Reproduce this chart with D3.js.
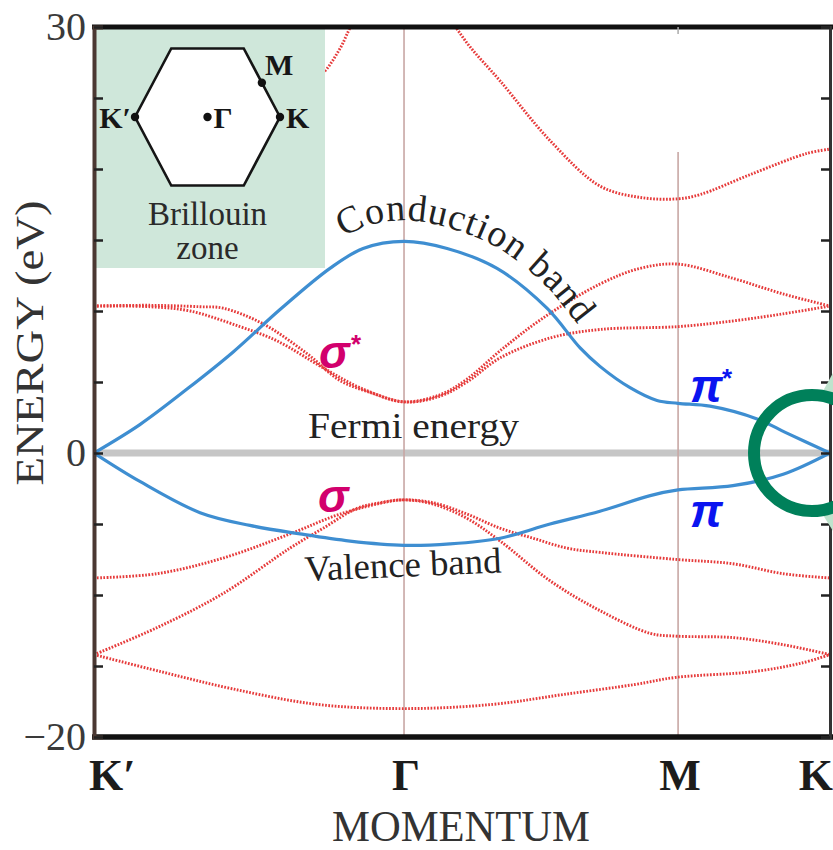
<!DOCTYPE html>
<html>
<head>
<meta charset="utf-8">
<script src="https://cdn.jsdelivr.net/npm/d3@7"></script>
<style>
  body { margin: 0; background: #fff; }
</style>
</head>
<body>
<div id="chart"></div>
<script>
// high-symmetry points along the momentum path
const kPoints = [0, 1, 1.884, 2.374];
const kLabels = ["K′", "Γ", "M", "K"];

// energy axis
const energyTicks = [-20, -15, -10, -5, 0, 5, 10, 15, 20, 25, 30];
const energyLabels = [30, 0, -20];

// pi bands [k, E]
const conduction = [[0, 0], [0.148, 2.0], [0.300, 4.5], [0.448, 7.1], [0.600, 10.1], [0.761, 13.0], [0.868, 14.4], [1, 14.9],
  [1.139, 14.4], [1.300, 13.0], [1.461, 10.2], [1.568, 7.4], [1.632, 6.1], [1.729, 4.6], [1.816, 3.7], [1.884, 3.5],
  [1.987, 3.3], [2.139, 2.4], [2.235, 1.4], [2.374, 0]];
const valence = [[0, 0], [0.148, -2.0], [0.342, -4.2], [0.503, -5.1], [0.665, -5.7], [0.826, -6.2], [1, -6.5],
  [1.148, -6.4], [1.310, -6.0], [1.471, -5.0], [1.632, -4.1], [1.794, -3.0], [1.884, -2.6], [2.061, -2.3],
  [2.223, -1.5], [2.374, 0]];

// sigma and higher bands [k, E]
const sigmaStarA = [[0, 10.35], [0.181, 10.4], [0.342, 10.3], [0.416, 10.2], [0.545, 9.1], [0.687, 7.0], [0.794, 5.1],
  [0.900, 4.2], [1, 3.6], [1.116, 4.1], [1.203, 5.2], [1.310, 7.2], [1.448, 9.5], [1.632, 11.9], [1.761, 13.0],
  [1.884, 13.3], [2.061, 12.3], [2.223, 11.2], [2.374, 10.35]];
const sigmaStarB = [[0, 10.35], [0.181, 10.3], [0.310, 10.0], [0.471, 8.9], [0.590, 7.9], [0.739, 6.0], [0.858, 4.6],
  [1, 3.6], [1.116, 4.0], [1.203, 5.0], [1.310, 6.7], [1.471, 8.1], [1.632, 8.7], [1.884, 8.9], [2.061, 9.3],
  [2.223, 9.8], [2.374, 10.35]];
const upperBand = [[0, 21.4], [0.342, 22.3], [0.535, 23.8], [0.665, 25.3], [0.745, 26.9], [0.794, 28.5], [0.842, 30.5],
  [1, 34], [1.148, 30.5], [1.213, 28.6], [1.310, 26.2], [1.471, 22.0], [1.632, 18.8], [1.761, 18.0], [1.884, 17.9],
  [1.955, 18.2], [2.116, 19.6], [2.300, 21.1], [2.374, 21.4]];
const sigmaA = [[0, -8.8], [0.203, -8.5], [0.416, -7.4], [0.632, -5.7], [0.794, -4.3], [0.955, -3.4], [1, -3.3],
  [1.094, -3.5], [1.203, -4.3], [1.310, -5.3], [1.416, -6.0], [1.526, -6.7], [1.632, -7.0], [1.881, -7.5],
  [2.061, -7.8], [2.223, -8.5], [2.374, -8.8]];
const sigmaB = [[0, -14.2], [0.203, -12.3], [0.416, -9.9], [0.632, -6.7], [0.739, -5.3], [0.848, -3.9], [0.923, -3.5],
  [1, -3.3], [1.094, -3.6], [1.203, -4.6], [1.310, -6.2], [1.471, -9.0], [1.632, -11.1], [1.794, -12.7],
  [1.881, -12.9], [2.061, -13.0], [2.223, -13.5], [2.374, -14.2]];
const sigmaC = [[0, -14.2], [0.216, -15.4], [0.445, -16.6], [0.719, -17.7], [1.003, -18.0], [1.287, -17.7],
  [1.516, -17.0], [1.745, -16.3], [1.877, -15.8], [2.126, -15.4], [2.281, -14.8], [2.374, -14.2]];

const redBands = [upperBand, sigmaStarA, sigmaStarB, sigmaA, sigmaB, sigmaC];
const blueBands = [conduction, valence];

const width = 833, height = 850;
const margin = { top: 27, right: 3, bottom: 113, left: 94 };
const serif = "'Liberation Serif', 'Times New Roman', serif";
const sans = "'Liberation Sans', Arial, sans-serif";

const x = d3.scaleLinear().domain([0, kPoints[3]]).range([margin.left, width - margin.right]);
const y = d3.scaleLinear().domain([-20, 30]).range([height - margin.bottom, margin.top]);

const svg = d3.select("#chart").append("svg")
  .attr("width", width)
  .attr("height", height)
  .style("font-family", serif);

svg.append("clipPath").attr("id", "plot-clip")
  .append("rect")
  .attr("x", x(0)).attr("y", y(30))
  .attr("width", x(kPoints[3]) - x(0)).attr("height", y(-20) - y(30));

// Fermi level
svg.append("line")
  .attr("x1", x(0)).attr("x2", x(kPoints[3]))
  .attr("y1", y(0)).attr("y2", y(0))
  .attr("stroke", "#c6c6c6").attr("stroke-width", 7);

// vertical lines at Gamma and M
svg.append("line")
  .attr("x1", x(kPoints[1])).attr("x2", x(kPoints[1]))
  .attr("y1", y(30)).attr("y2", y(-20))
  .attr("stroke", "#c8a7a4").attr("stroke-width", 1.6);
svg.append("line")
  .attr("x1", x(kPoints[2])).attr("x2", x(kPoints[2]))
  .attr("y1", y(21.2)).attr("y2", y(-20))
  .attr("stroke", "#c8a7a4").attr("stroke-width", 1.6);

const line = d3.line()
  .x(d => x(d[0]))
  .y(d => y(d[1]))
  .curve(d3.curveCatmullRom.alpha(0.5));

const bands = svg.append("g").attr("clip-path", "url(#plot-clip)");

bands.selectAll(".sigma")
  .data(redBands)
  .join("path")
  .attr("class", "sigma")
  .attr("d", line)
  .attr("fill", "none")
  .attr("stroke", "#e63a3a")
  .attr("stroke-width", 2.9)
  .attr("stroke-dasharray", "1.7 1.5");

bands.selectAll(".pi")
  .data(blueBands)
  .join("path")
  .attr("class", "pi")
  .attr("d", line)
  .attr("fill", "none")
  .attr("stroke", "#3e8ed1")
  .attr("stroke-width", 3.2);

// Brillouin zone inset
const inset = svg.append("g");
inset.append("rect")
  .attr("x", 96).attr("y", 29)
  .attr("width", 229).attr("height", 239)
  .attr("fill", "#cfe7da");

const hex = { cx: 207.5, cy: 117, rx: 72.5, ry: 68.5 };
const hexPts = d3.range(6).map(i => {
  const a = i * Math.PI / 3;
  return [hex.cx + hex.rx * Math.cos(a), hex.cy - hex.ry * Math.sin(a) / Math.sin(Math.PI / 3)];
});
inset.append("polygon")
  .attr("points", hexPts.map(p => p.join(",")).join(" "))
  .attr("fill", "#fff")
  .attr("stroke", "#151515")
  .attr("stroke-width", 2.6);

const bzPoints = [
  { name: "K′", p: [hex.cx - hex.rx, hex.cy], dx: -4, dy: 11, anchor: "end" },
  { name: "Γ", p: [hex.cx, hex.cy], dx: 6, dy: 11, anchor: "start" },
  { name: "K", p: [hex.cx + hex.rx, hex.cy], dx: 6, dy: 11, anchor: "start" },
  { name: "M", p: [hex.cx + 0.75 * hex.rx, hex.cy - hex.ry / 2], dx: 3, dy: -8, anchor: "start" }
];
inset.selectAll("circle.bz")
  .data(bzPoints)
  .join("circle")
  .attr("class", "bz")
  .attr("cx", d => d.p[0]).attr("cy", d => d.p[1])
  .attr("r", 4.2).attr("fill", "#111");
inset.selectAll("text.bz")
  .data(bzPoints)
  .join("text")
  .attr("class", "bz")
  .attr("x", d => d.p[0] + d.dx).attr("y", d => d.p[1] + d.dy)
  .attr("text-anchor", d => d.anchor)
  .attr("font-size", 30).attr("font-weight", "bold")
  .attr("fill", "#161616")
  .text(d => d.name);
inset.append("text")
  .attr("x", hex.cx).attr("y", 225)
  .attr("text-anchor", "middle")
  .attr("font-size", 33).attr("fill", "#2a2a2a")
  .text("Brillouin");
inset.append("text")
  .attr("x", hex.cx).attr("y", 259)
  .attr("text-anchor", "middle")
  .attr("font-size", 33).attr("fill", "#2a2a2a")
  .text("zone");

// frame
svg.append("line")
  .attr("x1", x(0) - 2).attr("x2", width).attr("y1", y(30)).attr("y2", y(30))
  .attr("stroke", "#111").attr("stroke-width", 5);
svg.append("line")
  .attr("x1", x(0) - 2).attr("x2", width).attr("y1", y(-20)).attr("y2", y(-20))
  .attr("stroke", "#111").attr("stroke-width", 5.5);

const yAxis = d3.axisLeft(y)
  .tickValues(energyTicks)
  .tickSize(-9)
  .tickPadding(8)
  .tickFormat(d => energyLabels.includes(d) ? (d < 0 ? "\u2212" + Math.abs(d) : d) : "");
const gy = svg.append("g")
  .attr("transform", `translate(${x(0)},0)`)
  .call(yAxis);
gy.select(".domain").attr("stroke", "#4b3832").attr("stroke-width", 4);
gy.selectAll(".tick line").attr("stroke", "#222").attr("stroke-width", 2.5);
gy.selectAll(".tick text")
  .attr("font-family", serif).attr("font-size", 40).attr("fill", "#3a3a3a")
  .attr("dy", "0.3em");

const yAxisRight = d3.axisRight(y)
  .tickValues(energyTicks)
  .tickSize(-9)
  .tickFormat("");
const gyr = svg.append("g")
  .attr("transform", `translate(${x(kPoints[3])},0)`)
  .call(yAxisRight);
gyr.select(".domain").attr("stroke", "#333").attr("stroke-width", 3);
gyr.selectAll(".tick line").attr("stroke", "#222").attr("stroke-width", 2.5);

// small top tick at M
svg.append("line")
  .attr("x1", x(kPoints[2])).attr("x2", x(kPoints[2]))
  .attr("y1", y(30)).attr("y2", y(30) + 7)
  .attr("stroke", "#aaa").attr("stroke-width", 1.5);

// x labels
svg.selectAll("text.klabel")
  .data(kPoints)
  .join("text")
  .attr("class", "klabel")
  .attr("x", (d, i) => i === 0 ? x(d) - 5 : i === 3 ? width : x(d) + 2)
  .attr("y", 790)
  .attr("text-anchor", (d, i) => i === 0 ? "start" : i === 3 ? "end" : "middle")
  .attr("font-size", 44).attr("font-weight", "bold")
  .attr("fill", "#1c1c1c")
  .text((d, i) => kLabels[i]);

svg.append("text")
  .attr("x", 461).attr("y", 841)
  .attr("text-anchor", "middle")
  .attr("font-size", 44).attr("fill", "#333")
  .attr("textLength", 258).attr("lengthAdjust", "spacingAndGlyphs")
  .text("MOMENTUM");

svg.append("text")
  .attr("transform", "translate(43,343) rotate(-90)")
  .attr("text-anchor", "middle")
  .attr("font-size", 40).attr("fill", "#333")
  .attr("textLength", 285).attr("lengthAdjust", "spacingAndGlyphs")
  .text("ENERGY (eV)");

// band annotations
const textLine = d3.line()
  .x(d => x(d[0]))
  .y(d => y(d[1]) - 21)
  .curve(d3.curveCatmullRom.alpha(0.5));
const condPath = svg.append("path")
  .attr("id", "cond-text-path")
  .attr("d", textLine(conduction))
  .attr("fill", "none");
const pathNode = condPath.node();
let lo = 0, hi = pathNode.getTotalLength();
while (hi - lo > 0.5) {
  const mid = (lo + hi) / 2;
  if (pathNode.getPointAtLength(mid).x < 344) lo = mid; else hi = mid;
}
svg.append("text")
  .attr("font-size", 38).attr("fill", "#222")
  .attr("letter-spacing", 0.9)
  .append("textPath")
  .attr("href", "#cond-text-path")
  .attr("startOffset", lo)
  .text("Conduction band");

svg.append("text")
  .attr("x", 308).attr("y", 438)
  .attr("font-size", 35).attr("fill", "#222")
  .attr("textLength", 211).attr("lengthAdjust", "spacingAndGlyphs")
  .text("Fermi energy");

svg.append("text")
  .attr("transform", "translate(305,581) rotate(-2.5)")
  .attr("font-size", 36).attr("fill", "#222")
  .attr("textLength", 197).attr("lengthAdjust", "spacingAndGlyphs")
  .text("Valence band");

// orbital labels
const orbitals = [
  { t: "σ", star: true, x: 319, y: 368, c: "#d2006d" },
  { t: "σ", star: false, x: 318, y: 512, c: "#d2006d" },
  { t: "π", star: true, x: 690, y: 402, c: "#0a14f0" },
  { t: "π", star: false, x: 690, y: 527, c: "#0a14f0" }
];
orbitals.forEach(o => {
  svg.append("text")
    .attr("x", o.x).attr("y", o.y)
    .attr("font-family", sans).attr("font-style", "italic").attr("font-weight", "bold")
    .attr("font-size", 46).attr("fill", o.c)
    .text(o.t);
  if (o.star) {
    svg.append("text")
      .attr("x", o.x + 32).attr("y", o.y - 15)
      .attr("font-family", sans).attr("font-weight", "bold")
      .attr("font-size", 26).attr("fill", o.c)
      .text("*");
  }
});

// Dirac point highlight
const ring = { cx: x(kPoints[3]) - 18, cy: y(0), r: 58 };
svg.append("polygon")
  .attr("points", `${width - 10},${ring.cy - 62} ${width},${ring.cy - 80} ${width},${ring.cy - 56}`)
  .attr("fill", "#bfe3cd");
svg.append("polygon")
  .attr("points", `${width - 10},${ring.cy + 62} ${width},${ring.cy + 58} ${width},${ring.cy + 78}`)
  .attr("fill", "#bfe3cd");
svg.append("circle")
  .attr("cx", ring.cx).attr("cy", ring.cy).attr("r", ring.r)
  .attr("fill", "none")
  .attr("stroke", "#00805a")
  .attr("stroke-width", 12);
</script>
</body>
</html>
